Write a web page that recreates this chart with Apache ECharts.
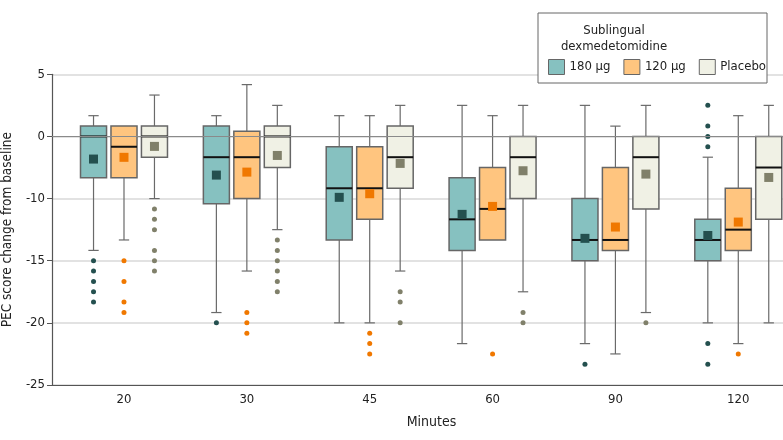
<!DOCTYPE html>
<html>
<head>
<meta charset="utf-8">
<script src="https://cdn.jsdelivr.net/npm/echarts@6/dist/echarts.min.js"></script>
<style>html,body{margin:0;padding:0;background:#fff}#c{width:783px;height:440px}</style>
</head>
<body>
<div id="c"></div>
<script>
// ---- data ----
const categories = ['20', '30', '45', '60', '90', '120'];
const yTickLabels = ['-25', '-20', '-15', '-10', '0', '5'];
const seriesNames = ['180 µg', '120 µg', 'Placebo'];
// [lower whisker, Q1, median, Q3, upper whisker]
const box180 = [
  [-9.17, -3.33, 0, 0.83, 1.67],
  [-14.17, -5.42, -1.67, 0.83, 1.67],
  [-15, -8.33, -4.17, -0.83, 1.67],
  [-16.67, -9.17, -6.67, -3.33, 2.5],
  [-16.67, -10, -8.33, -5, 2.5],
  [-15, -10, -8.33, -6.67, -1.67]
];
const box120 = [
  [-8.33, -3.33, -0.83, 0.83, 0.83],
  [-10.83, -5, -1.67, 0.42, 4.17],
  [-15, -6.67, -4.17, -0.83, 1.67],
  [-8.33, -8.33, -5.83, -2.5, 1.67],
  [-17.5, -9.17, -8.33, -2.5, 0.83],
  [-16.67, -9.17, -7.5, -4.17, 1.67]
];
const boxPlacebo = [
  [-5, -1.67, 0, 0.83, 3.33],
  [-7.5, -2.5, 0, 0.83, 2.5],
  [-10.83, -4.17, -1.67, 0.83, 2.5],
  [-12.5, -5, -1.67, 0, 2.5],
  [-14.17, -5.83, -1.67, 0, 2.5],
  [-15, -6.67, -2.5, 0, 2.5]
];
const mean180 = [-1.82, -3.11, -4.9, -6.27, -8.2, -7.97];
const mean120 = [-1.68, -2.87, -4.61, -5.63, -7.29, -6.89];
const meanPlacebo = [-0.8, -1.53, -2.17, -2.76, -3.03, -3.3];
const out180 = [
  [-10, -10.83, -11.67, -12.5, -13.33],
  [-15],
  [],
  [],
  [-18.33],
  [2.5, 0.83, 0, -0.83, -16.67, -18.33]
];
const out120 = [
  [-10, -11.67, -13.33, -14.17],
  [-14.17, -15, -15.83],
  [-15.83, -16.67, -17.5],
  [-17.5],
  [],
  [-17.5]
];
const outPlacebo = [
  [-5.83, -6.67, -7.5, -9.17, -10, -10.83],
  [-8.33, -9.17, -10, -10.83, -11.67, -12.5],
  [-12.5, -13.33, -15],
  [-14.17, -15],
  [-15],
  []
];

// ---- styles ----
const FONT = "'Liberation Sans Narrow', 'DejaVu Sans Condensed', 'Roboto Condensed', sans-serif";
const fills = ['#86C1C0', '#FFC57F', '#F0F1E5'];
const dots = ['#24504F', '#F07800', '#80806A'];
const OFFS = [-0.248, 0, 0.248];
const BW = 0.106, CAP = 0.042;

function renderBox(off, fill) {
  return function (params, api) {
    const i = api.value(0);
    const lo = api.value(1), q1 = api.value(2), md = api.value(3), q3 = api.value(4), hi = api.value(5);
    const x = i + off;
    const c = (xx, yy) => api.coord([xx, yy]);
    const ls = { stroke: '#6a6a6a', lineWidth: 1.2 };
    const children = [];
    if (hi > q3) {
      const a = c(x, q3), b = c(x, hi), l = c(x - CAP, hi), r = c(x + CAP, hi);
      children.push({ type: 'line', shape: { x1: a[0], y1: a[1], x2: b[0], y2: b[1] }, style: ls });
      children.push({ type: 'line', shape: { x1: l[0], y1: l[1], x2: r[0], y2: r[1] }, style: ls });
    }
    if (lo < q1) {
      const a = c(x, q1), b = c(x, lo), l = c(x - CAP, lo), r = c(x + CAP, lo);
      children.push({ type: 'line', shape: { x1: a[0], y1: a[1], x2: b[0], y2: b[1] }, style: ls });
      children.push({ type: 'line', shape: { x1: l[0], y1: l[1], x2: r[0], y2: r[1] }, style: ls });
    }
    const tl = c(x - BW, q3), br = c(x + BW, q1);
    children.push({ type: 'rect', shape: { x: tl[0], y: tl[1], width: br[0] - tl[0], height: br[1] - tl[1] },
      style: { fill: fill, stroke: '#666', lineWidth: 1.5 } });
    const ml = c(x - BW, md), mr = c(x + BW, md);
    children.push({ type: 'line', shape: { x1: ml[0], y1: ml[1], x2: mr[0], y2: mr[1] }, style: { stroke: '#111', lineWidth: 2 } });
    return { type: 'group', children: children };
  };
}

const boxes = [box180, box120, boxPlacebo];
const means = [mean180, mean120, meanPlacebo];
const outs = [out180, out120, outPlacebo];

const series = [];
// zero reference line
series.push({
  type: 'line', data: [], silent: true, z: 1,
  markLine: { symbol: 'none', silent: true, label: { show: false },
    lineStyle: { color: '#8a8a8a', width: 1.2, type: 'solid' }, data: [{ yAxis: 0 }] }
});
for (let g = 0; g < 3; g++) {
  series.push({
    name: seriesNames[g], type: 'custom', z: 2,
    itemStyle: { color: fills[g], borderColor: '#666' },
    renderItem: renderBox(OFFS[g], fills[g]),
    encode: { x: 0, y: [1, 2, 3, 4, 5] },
    data: boxes[g].map((b, i) => [i].concat(b))
  });
  series.push({
    type: 'scatter', z: 3, symbol: 'rect', symbolSize: 9,
    itemStyle: { color: dots[g], opacity: 1 },
    data: means[g].map((v, i) => [i + OFFS[g], v])
  });
  const od = [];
  outs[g].forEach((arr, i) => arr.forEach(v => od.push([i + OFFS[g], v])));
  series.push({
    type: 'scatter', z: 3, symbol: 'circle', symbolSize: 5,
    itemStyle: { color: dots[g], opacity: 1 },
    data: od
  });
}

const chart = echarts.init(document.getElementById('c'), null, { renderer: 'canvas' });
chart.setOption({
  animation: false,
  textStyle: { fontFamily: FONT },
  grid: { left: 52, right: 0, top: 74.3, bottom: 55, containLabel: false, outerBoundsMode: 'none' },
  xAxis: {
    type: 'value', min: -0.586, max: 5.364,
    name: 'Minutes', nameLocation: 'middle', nameGap: 30,
    nameTextStyle: { fontFamily: FONT, fontSize: 14, color: '#222', padding: [0, 0, 0, 28] },
    axisLine: { show: true, onZero: false, lineStyle: { color: '#555', width: 1.2 } },
    axisTick: { show: false },
    splitLine: { show: false },
    axisLabel: { customValues: [0, 1, 2, 3, 4, 5], formatter: v => categories[Math.round(v)],
      fontFamily: FONT, fontSize: 13, color: '#222', margin: 8 }
  },
  yAxis: {
    type: 'value', min: -20, max: 5, interval: 5,
    name: 'PEC score change from baseline', nameLocation: 'middle', nameGap: 34,
    nameTextStyle: { fontFamily: FONT, fontSize: 13.5, color: '#222' },
    axisLine: { show: true, onZero: false, lineStyle: { color: '#555', width: 1.2 } },
    axisTick: { show: true, length: 5, lineStyle: { color: '#555' } },
    splitLine: { show: true, lineStyle: { color: '#e2e2e2', width: 2 } },
    axisLabel: { formatter: v => yTickLabels[Math.round((v + 20) / 5)],
      fontFamily: FONT, fontSize: 13, color: '#222', margin: 7 }
  },
  legend: {
    z: 20, left: 548, top: 59, padding: 0, itemWidth: 16, itemHeight: 15, itemGap: 13,
    selectedMode: false,
    textStyle: { fontFamily: FONT, fontSize: 13, color: '#222' },
    data: seriesNames.map((n, g) => ({ name: n, icon: 'rect',
      itemStyle: { color: fills[g], borderColor: '#666', borderWidth: 1 } }))
  },
  graphic: [
    { type: 'rect', z: 15, shape: { x: 538, y: 13, width: 229, height: 70 },
      style: { fill: '#fff', stroke: '#666', lineWidth: 1 } },
    { type: 'text', z: 16, x: 614, y: 31,
      style: { text: 'Sublingual', align: 'center', verticalAlign: 'middle', font: '13px ' + FONT, fill: '#222' } },
    { type: 'text', z: 16, x: 614, y: 47,
      style: { text: 'dexmedetomidine', align: 'center', verticalAlign: 'middle', font: '13px ' + FONT, fill: '#222' } }
  ],
  series: series
});
</script>
</body>
</html>
